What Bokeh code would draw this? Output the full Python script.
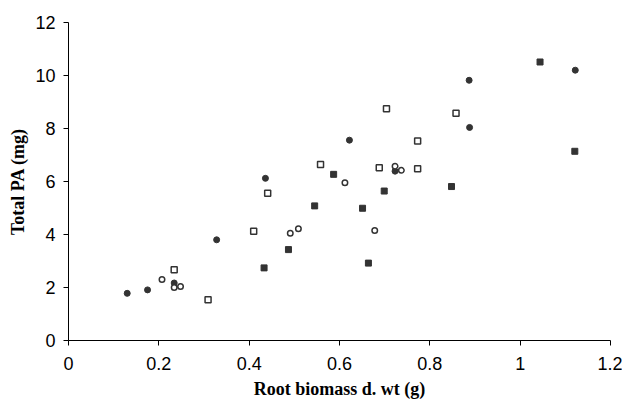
from bokeh.plotting import figure
from bokeh.models import FixedTicker, Range1d
from bokeh.embed import file_html
from bokeh.resources import INLINE

# Data
filled_circle_x = [0.130, 0.175, 0.234, 0.328, 0.436, 0.622, 0.723, 0.887, 0.888, 1.122]
filled_circle_y = [1.78, 1.91, 2.17, 3.80, 6.12, 7.56, 6.39, 9.82, 8.04, 10.20]

open_circle_x = [0.207, 0.234, 0.248, 0.491, 0.509, 0.612, 0.678, 0.723, 0.737]
open_circle_y = [2.30, 2.00, 2.04, 4.05, 4.22, 5.95, 4.15, 6.58, 6.42]

filled_square_x = [0.433, 0.487, 0.545, 0.587, 0.651, 0.664, 0.699, 0.848, 1.044, 1.121]
filled_square_y = [2.74, 3.43, 5.08, 6.27, 4.99, 2.92, 5.64, 5.81, 10.51, 7.14]

open_square_x = [0.234, 0.309, 0.410, 0.441, 0.558, 0.688, 0.704, 0.773, 0.773, 0.858]
open_square_y = [2.67, 1.54, 4.12, 5.56, 6.64, 6.52, 8.75, 7.53, 6.48, 8.58]

x_ticks = [0, 0.2, 0.4, 0.6, 0.8, 1, 1.2]
x_tick_labels = ["0", "0.2", "0.4", "0.6", "0.8", "1", "1.2"]
y_ticks = [0, 2, 4, 6, 8, 10, 12]
y_tick_labels = ["0", "2", "4", "6", "8", "10", "12"]

x_title = "Root biomass d. wt (g)"
y_title = "Total PA (mg)"

DARK = "#333333"

p = figure(width=622, height=401, output_backend="svg", toolbar_location=None,
           x_range=Range1d(0, 1.2), y_range=Range1d(0, 12),
           min_border_left=68, min_border_right=12, min_border_top=22, min_border_bottom=57)
p.outline_line_color = None
p.xgrid.grid_line_color = None
p.ygrid.grid_line_color = None
p.background_fill_color = "white"
p.border_fill_color = "white"

p.scatter(filled_circle_x, filled_circle_y, marker="circle", size=6,
          fill_color=DARK, line_color=DARK, line_width=1)
p.scatter(open_circle_x, open_circle_y, marker="circle", size=5.5,
          fill_color="white", line_color=DARK, line_width=1.5)
p.scatter(filled_square_x, filled_square_y, marker="square", size=6,
          fill_color=DARK, line_color=DARK, line_width=1)
p.scatter(open_square_x, open_square_y, marker="square", size=6,
          fill_color="white", line_color=DARK, line_width=1.5)

for ax, ticks, labels, title in ((p.xaxis[0], x_ticks, x_tick_labels, x_title),
                                 (p.yaxis[0], y_ticks, y_tick_labels, y_title)):
    ax.ticker = FixedTicker(ticks=ticks)
    ax.major_label_overrides = {t: l for t, l in zip(ticks, labels)}
    ax.minor_tick_line_color = None
    ax.major_tick_in = 0
    ax.major_tick_out = 5
    ax.axis_line_color = "black"
    ax.major_tick_line_color = "black"
    ax.major_label_text_font = "Liberation Sans"
    ax.major_label_text_font_size = "18px"
    ax.major_label_text_color = "black"
    ax.axis_label = title
    ax.axis_label_text_font = "Liberation Serif"
    ax.axis_label_text_font_style = "bold"
    ax.axis_label_text_font_size = "18px"
    ax.axis_label_text_color = "black"

p.xaxis.major_label_standoff = 11
p.xaxis.axis_label_standoff = 6
p.yaxis.major_label_standoff = 8
p.yaxis.axis_label_standoff = 4

open("out.html", "w").write(file_html(p, INLINE))
